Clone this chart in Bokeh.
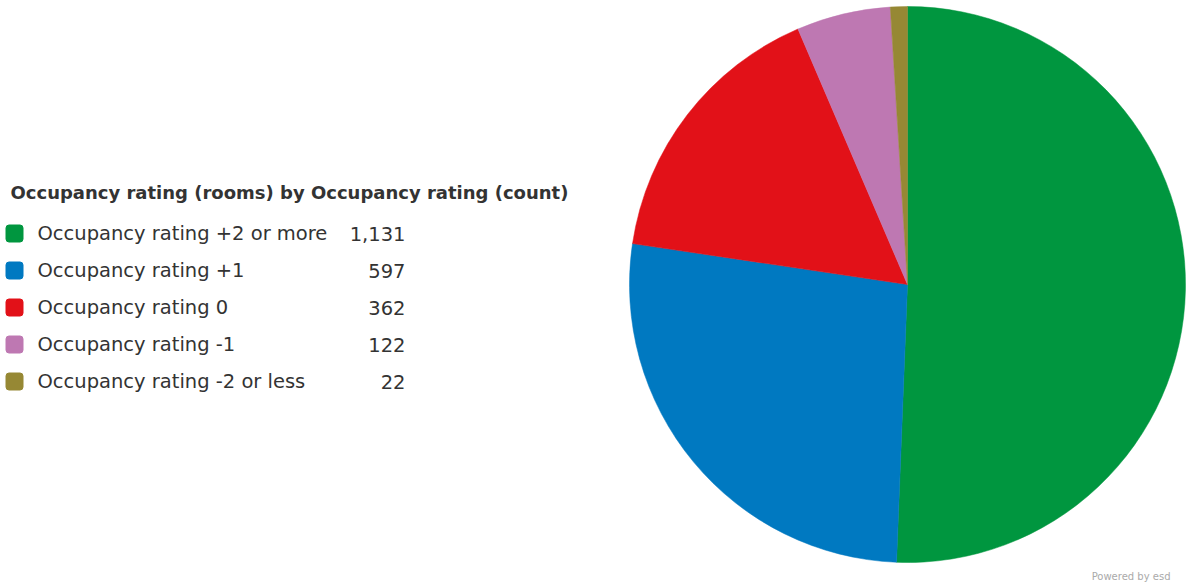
from bokeh.plotting import figure
from bokeh.models import ColumnDataSource, Range1d
from bokeh.core.properties import value
from bokeh.embed import file_html
from bokeh.resources import INLINE
import math

title = "Occupancy rating (rooms) by Occupancy rating (count)"
categories = ["Occupancy rating +2 or more", "Occupancy rating +1", "Occupancy rating 0",
              "Occupancy rating -1", "Occupancy rating -2 or less"]
counts = [1131, 597, 362, 122, 22]
colors = ["#00963F", "#0079C1", "#E21118", "#BE78B2", "#968834"]

W, H = 1203, 585
p = figure(width=W, height=H, output_backend="svg", toolbar_location=None,
           x_range=Range1d(0, W), y_range=Range1d(0, H), min_border=0)
p.axis.visible = False
p.grid.visible = False
p.outline_line_color = None

def py(page_y):
    return H - page_y

def px(page_x):
    return page_x

total = sum(counts)
starts, ends = [], []
cum = 0
for c in counts:
    starts.append(math.pi / 2 - 2 * math.pi * cum / total)
    cum += c
    ends.append(math.pi / 2 - 2 * math.pi * cum / total)

src = ColumnDataSource(dict(start=starts, end=ends, color=colors))
p.wedge(x=px(907), y=py(284), radius=278, start_angle="start", end_angle="end",
        direction="clock", fill_color="color", line_color="color", line_width=0.5, source=src)

font = value("DejaVu Sans")
p.text(x=[px(10)], y=[py(192)], text=[title], text_font=font, text_font_size="18px",
       text_font_style="bold", text_color="#333333", text_baseline="middle")

rows_y = [py(233 + 37 * i) for i in range(len(categories))]
leg = ColumnDataSource(dict(y=rows_y, cat=categories, color=colors,
                            val=[f"{c:,}" for c in counts]))
p.rect(x=px(14), y="y", width=17, height=17, fill_color="color", line_color="color",
       border_radius=3, source=leg)
p.text(x=px(37), y="y", text="cat", text_font=font, text_font_size="19.5px",
       text_color="#333333", text_baseline="middle", source=leg)
p.text(x=px(405), y="y", text="val", text_font=font, text_font_size="19.5px",
       text_color="#333333", text_baseline="middle", text_align="right", source=leg)

p.text(x=[px(1170)], y=[py(576)], text=["Powered by esd"], text_font=font,
       text_font_size="10px", text_color="#aaaaaa", text_baseline="middle", text_align="right")

open("out.html", "w").write(file_html(p, INLINE))
